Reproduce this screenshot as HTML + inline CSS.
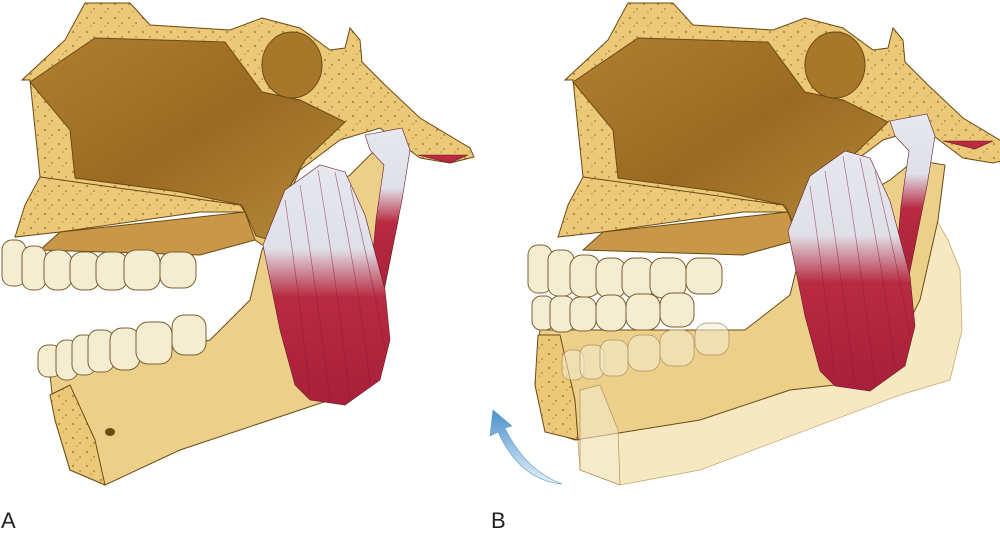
<!DOCTYPE html>
<html><head><meta charset="utf-8"><style>
body{margin:0;background:#fff;width:1000px;height:534px;overflow:hidden}
svg{display:block}
text{font-family:"Liberation Sans",sans-serif;font-size:22px;fill:#222}
</style></head><body>
<svg width="1000" height="534" viewBox="0 0 1000 534">
<defs>
<linearGradient id="cav" x1="0" y1="0" x2="1" y2="1"><stop offset="0" stop-color="#b07f30"/><stop offset="0.5" stop-color="#9a6a22"/><stop offset="1" stop-color="#b58a3a"/></linearGradient>
<linearGradient id="mus" x1="0" y1="0" x2="0" y2="1"><stop offset="0" stop-color="#e6e8ef"/><stop offset="0.35" stop-color="#dfe0e8"/><stop offset="0.55" stop-color="#b82a40"/><stop offset="1" stop-color="#a8203a"/></linearGradient>
<linearGradient id="arr" x1="0" y1="1" x2="0" y2="0"><stop offset="0" stop-color="#e8f2fa"/><stop offset="1" stop-color="#4a90c8"/></linearGradient>
<pattern id="spong" width="14" height="14" patternUnits="userSpaceOnUse"><rect width="14" height="14" fill="#ecc978"/><circle cx="3" cy="4" r="1.2" fill="#b89040"/><circle cx="10" cy="9" r="1" fill="#b89040"/><circle cx="7" cy="12" r=".8" fill="#b89040"/></pattern>
<g id="skull" stroke="#6b4a14" stroke-width="1">
<path d="M22,80 L65,40 L85,3 L130,3 L150,25 L230,30 L262,18 L300,28 L330,50 L345,48 L350,28 L360,40 L362,62 L385,85 L420,118 L470,148 L474,157 L450,163 L420,158 L380,128 L340,140 L300,170 L282,210 L270,250 L255,240 L240,210 L70,182 L40,177 L30,80 Z" fill="url(#spong)"/>
<path d="M30,82 L95,38 L225,42 L262,92 L300,100 L345,122 L305,160 L285,195 L270,240 L256,236 L242,205 L180,192 L75,178 L70,130 Z" fill="url(#cav)"/>
<ellipse cx="292" cy="65" rx="30" ry="33" fill="#a8782a"/>
<path d="M40,177 L240,205 L245,212 L200,212 L60,232 L15,237 L25,205 Z" fill="url(#spong)"/>
<path d="M60,232 L245,212 L255,240 L200,255 L40,250 Z" fill="#c89848"/>
</g>
<g id="mus1" stroke="#6b1a2a" stroke-width=".6">
<path d="M365,135 L402,128 L410,150 L402,200 L392,250 L382,300 L370,285 L376,220 L384,165 L370,150 Z" fill="url(#mus)"/>
<path d="M263,245 L285,190 L320,165 L345,172 L365,215 L385,290 L390,340 L380,380 L345,405 L310,400 L295,385 L280,330 Z" fill="url(#mus)"/>
<g stroke="#8a1a30" stroke-width=".7" fill="none" opacity=".6"><path d="M285,200 Q300,300 310,395"/><path d="M300,185 Q318,300 330,400"/><path d="M318,170 Q338,290 350,400"/><path d="M335,172 Q360,290 370,385"/><path d="M350,185 Q375,290 385,350"/></g>
<path d="M418,155 L468,155 L450,163 Z" fill="#b82a40"/>
</g>
</defs>

<!-- Panel A -->
<path d="M210,340 L250,300 L262,250 L280,215 L350,175 L375,150 L405,155 L398,220 L382,300 L330,400 L300,410 L180,450 L105,485 L70,470 L55,420 L50,375 Z" fill="#ecd08a" stroke="#6b4a14"/>
<path d="M50,395 L70,385 L95,440 L105,485 L70,470 L55,420 Z" fill="url(#spong)" stroke="#6b4a14"/>
<ellipse cx="110" cy="432" rx="5" ry="4" fill="#6b4a14"/>
<use href="#skull"/>
<g fill="#f4edd2" stroke="#7a6030">
<rect x="2" y="240" width="24" height="46" rx="10"/><rect x="22" y="246" width="24" height="44" rx="10"/><rect x="44" y="250" width="28" height="40" rx="12"/><rect x="70" y="252" width="30" height="38" rx="12"/><rect x="96" y="252" width="32" height="38" rx="12"/><rect x="124" y="250" width="36" height="40" rx="12"/><rect x="160" y="252" width="36" height="36" rx="12"/>
<rect x="38" y="345" width="24" height="32" rx="10"/><rect x="56" y="340" width="22" height="40" rx="10"/><rect x="72" y="335" width="24" height="40" rx="10"/><rect x="88" y="330" width="26" height="42" rx="10"/><rect x="110" y="328" width="30" height="42" rx="12"/><rect x="136" y="322" width="36" height="42" rx="12"/><rect x="172" y="315" width="34" height="40" rx="12"/>
</g>
<use href="#mus1"/>

<!-- Panel B -->
<path d="M600,395 L800,330 L840,250 L880,210 L920,190 L948,240 L960,270 L962,330 L950,380 L900,395 L700,470 L620,485 L580,470 L575,400 Z" fill="#f4e2b2" fill-opacity=".8" stroke="#c8a870" stroke-width=".8"/>
<path d="M745,330 L790,295 L800,255 L820,220 L890,180 L915,160 L945,165 L938,220 L920,300 L880,380 L790,390 L700,420 L575,440 L545,430 L535,385 L540,330 Z" fill="#ecd08a" stroke="#6b4a14"/>
<path d="M538,335 L560,335 L575,400 L578,440 L545,432 L535,385 Z" fill="url(#spong)" stroke="#6b4a14"/>
<use href="#skull" transform="translate(543,0)"/>
<g fill="#f4edd2" stroke="#7a6030">
<rect x="528" y="245" width="24" height="48" rx="10"/><rect x="548" y="250" width="26" height="46" rx="10"/><rect x="570" y="255" width="30" height="42" rx="12"/><rect x="596" y="258" width="30" height="40" rx="12"/><rect x="622" y="258" width="32" height="40" rx="12"/><rect x="650" y="258" width="36" height="40" rx="12"/><rect x="686" y="258" width="36" height="36" rx="12"/>
<rect x="532" y="296" width="22" height="34" rx="9"/><rect x="550" y="296" width="24" height="36" rx="9"/><rect x="570" y="297" width="26" height="34" rx="10"/><rect x="596" y="295" width="30" height="36" rx="12"/><rect x="626" y="294" width="34" height="36" rx="12"/><rect x="660" y="293" width="34" height="34" rx="12"/>
</g>
<g fill="#f4edd2" fill-opacity=".55" stroke="#b09060" stroke-width=".7">
<rect x="562" y="350" width="22" height="30" rx="9"/><rect x="580" y="345" width="24" height="34" rx="9"/><rect x="600" y="340" width="28" height="36" rx="10"/><rect x="628" y="335" width="32" height="36" rx="12"/><rect x="660" y="330" width="34" height="36" rx="12"/><rect x="695" y="323" width="34" height="32" rx="12"/>
<path d="M580,390 L600,385 L618,430 L620,485 L580,470 Z"/>
</g>
<use href="#mus1" transform="translate(525,-14)"/>
<path d="M562,484 Q520,480 498,432 L490,436 L493,410 L512,426 L505,428 Q525,470 562,484 Z" fill="url(#arr)" stroke="#5a9ad0" stroke-width=".6"/>

<text x="1" y="528">A</text>
<text x="491" y="528">B</text>
</svg>
</body></html>
